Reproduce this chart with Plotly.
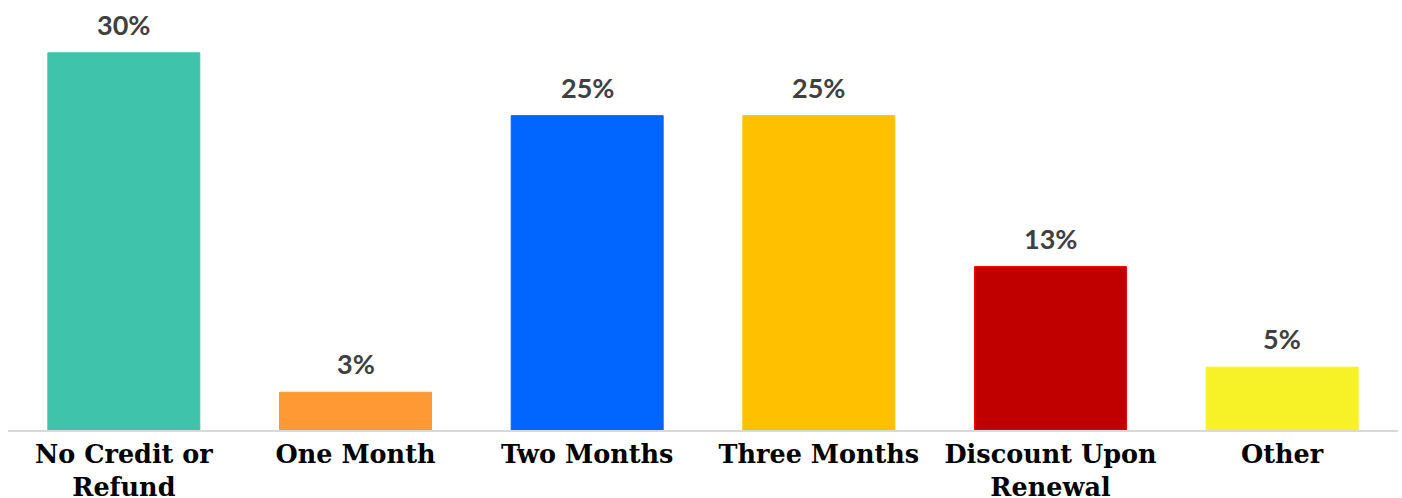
import plotly.graph_objects as go

# Survey responses: share of each credit / refund option
categories = ["No Credit or<br>Refund", "One Month", "Two Months",
              "Three Months", "Discount Upon<br>Renewal", "Other"]
shares = [30, 3, 25, 25, 13, 5]
bar_colors = ["#3FC3AA", "#FF9933", "#0066FF", "#FFC000", "#C00000", "#F7F228"]
edge_colors = ["#3FC3AA", "#FF9933", "#0066FF", "#FFC000", "#FF0000", "#F7F228"]

fig = go.Figure(
    go.Bar(
        x=categories,
        y=shares,
        marker=dict(color=bar_colors, line=dict(color=edge_colors, width=1)),
        hoverinfo="skip",
    )
)

# Percentage labels above each bar
for cat, val in zip(categories, shares):
    fig.add_annotation(
        x=cat, y=val, text=f"<b>{val}%</b>", showarrow=False,
        yanchor="bottom", yshift=10,
        font=dict(family="Lato", size=27, color="#404040"),
    )

fig.update_layout(
    width=1402, height=498,
    margin=dict(l=8, r=4, t=0, b=68),
    paper_bgcolor="white", plot_bgcolor="white",
    bargap=0.344,
    showlegend=False,
    xaxis=dict(
        showline=True, linecolor="#D9D9D9", linewidth=2,
        showgrid=False, ticks="", ticklabelstandoff=0, automargin=False,
        tickfont=dict(family="DejaVu Serif", size=25.5, color="#000000", weight="bold"),
    ),
    yaxis=dict(range=[0, 34.2], visible=False, showgrid=False, zeroline=False,
               automargin=False),
)

fig.write_html("out.html")
